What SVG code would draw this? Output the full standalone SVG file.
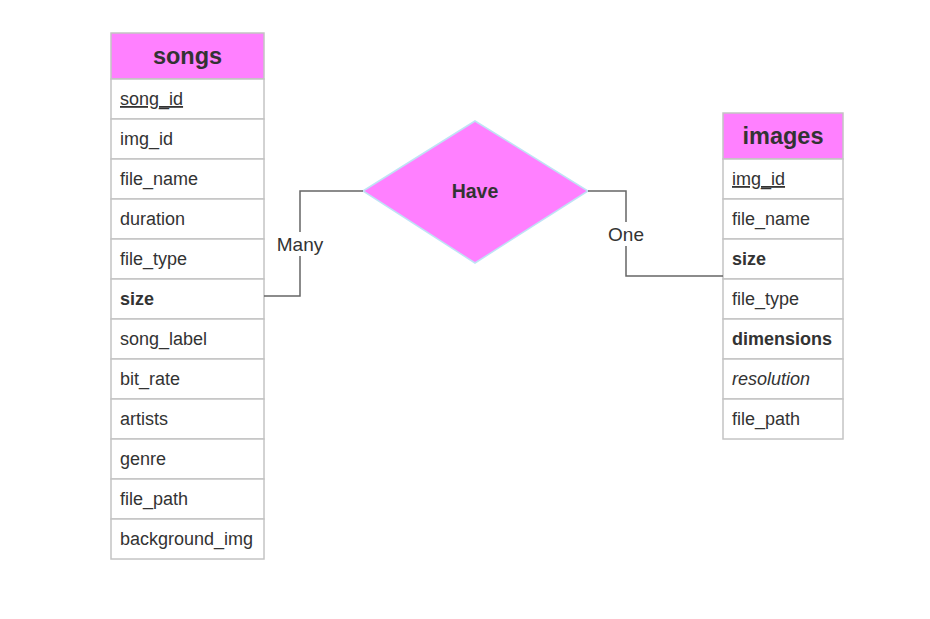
<svg xmlns="http://www.w3.org/2000/svg" width="930" height="619" viewBox="0 0 930 619">
<style>
text{font-family:"Liberation Sans",Arial,sans-serif;fill:#333333}
.hdr{fill:#FF80FF;stroke:#c4c4c4;stroke-width:1.5}
.row{fill:#ffffff;stroke:#c4c4c4;stroke-width:1.5}
.ht{font-size:23.5px;font-weight:bold;text-anchor:middle}
.rt{font-size:18px}
.b{font-weight:bold}
.i{font-style:italic}
.u{text-decoration:underline}
.edge{fill:none;stroke:#666666;stroke-width:1.5}
.lbl{font-size:19px;text-anchor:middle}
</style>
<rect width="930" height="619" fill="#ffffff"/>
<g id="songs">
<rect class="hdr" x="111" y="33" width="153" height="46"/>
<text class="ht" x="187.5" y="64">songs</text>
<rect class="row" x="111" y="79" width="153" height="40"/>
<text class="rt u" x="120" y="105">song_id</text>
<rect class="row" x="111" y="119" width="153" height="40"/>
<text class="rt" x="120" y="145">img_id</text>
<rect class="row" x="111" y="159" width="153" height="40"/>
<text class="rt" x="120" y="185">file_name</text>
<rect class="row" x="111" y="199" width="153" height="40"/>
<text class="rt" x="120" y="225">duration</text>
<rect class="row" x="111" y="239" width="153" height="40"/>
<text class="rt" x="120" y="265">file_type</text>
<rect class="row" x="111" y="279" width="153" height="40"/>
<text class="rt b" x="120" y="305">size</text>
<rect class="row" x="111" y="319" width="153" height="40"/>
<text class="rt" x="120" y="345">song_label</text>
<rect class="row" x="111" y="359" width="153" height="40"/>
<text class="rt" x="120" y="385">bit_rate</text>
<rect class="row" x="111" y="399" width="153" height="40"/>
<text class="rt" x="120" y="425">artists</text>
<rect class="row" x="111" y="439" width="153" height="40"/>
<text class="rt" x="120" y="465">genre</text>
<rect class="row" x="111" y="479" width="153" height="40"/>
<text class="rt" x="120" y="505">file_path</text>
<rect class="row" x="111" y="519" width="153" height="40"/>
<text class="rt" x="120" y="545">background_img</text>
</g>
<g id="images">
<rect class="hdr" x="723" y="113" width="120" height="46"/>
<text class="ht" x="783" y="144">images</text>
<rect class="row" x="723" y="159" width="120" height="40"/>
<text class="rt u" x="732" y="185">img_id</text>
<rect class="row" x="723" y="199" width="120" height="40"/>
<text class="rt" x="732" y="225">file_name</text>
<rect class="row" x="723" y="239" width="120" height="40"/>
<text class="rt b" x="732" y="265">size</text>
<rect class="row" x="723" y="279" width="120" height="40"/>
<text class="rt" x="732" y="305">file_type</text>
<rect class="row" x="723" y="319" width="120" height="40"/>
<text class="rt b" x="732" y="345">dimensions</text>
<rect class="row" x="723" y="359" width="120" height="40"/>
<text class="rt i" x="732" y="385">resolution</text>
<rect class="row" x="723" y="399" width="120" height="40"/>
<text class="rt" x="732" y="425">file_path</text>
</g>
<g id="have">
<polygon points="363,191 475,121 588,191 475,263" fill="#FF80FF" stroke="#bfe3f5" stroke-width="1.5"/>
<text x="475" y="198" font-size="19.5" font-weight="bold" text-anchor="middle">Have</text>
</g>
<g id="connectors">
<path class="edge" d="M264,296 H300 V191 H363"/>
<rect x="276" y="232" width="48" height="24" fill="#ffffff"/>
<text class="lbl" x="300" y="251">Many</text>
<path class="edge" d="M588,191 H626 V276 H723"/>
<rect x="604" y="222" width="44" height="24" fill="#ffffff"/>
<text class="lbl" x="626" y="241">One</text>
</g>
</svg>
